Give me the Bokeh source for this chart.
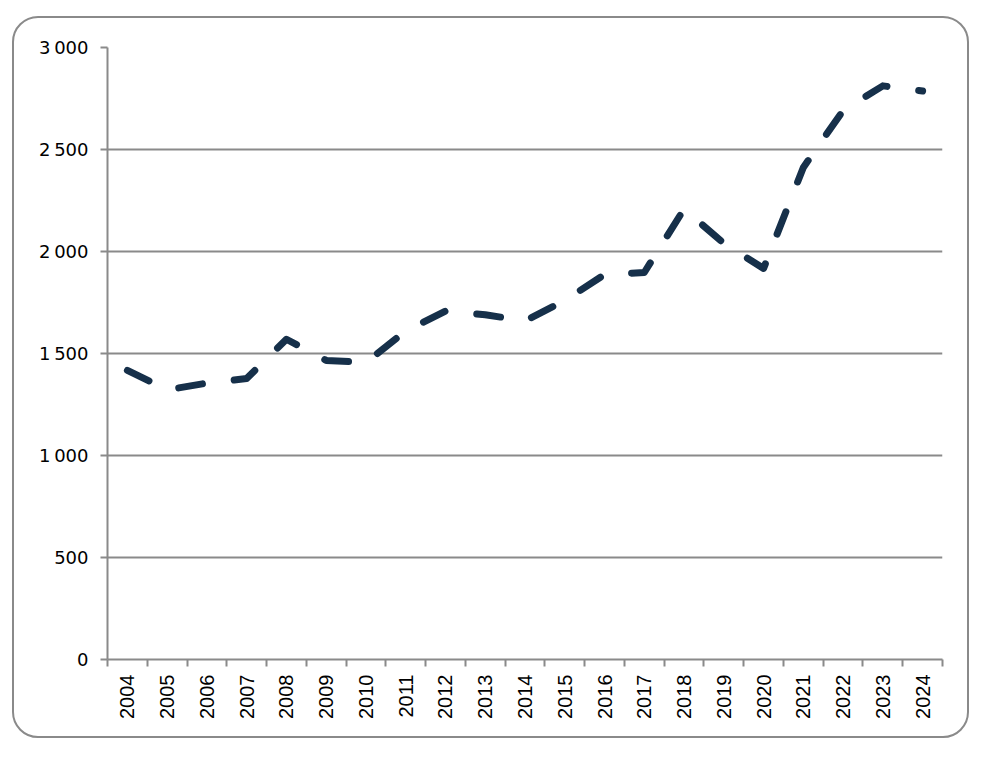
import numpy as np
from bokeh.plotting import figure
from bokeh.layouts import column, row
from bokeh.models import (ColumnDataSource, Range1d, FixedTicker, CustomJSTickFormatter, Spacer)
from bokeh.embed import file_html
from bokeh.resources import INLINE

years = ["2004", "2005", "2006", "2007", "2008", "2009", "2010", "2011", "2012", "2013",
         "2014", "2015", "2016", "2017", "2018", "2019", "2020", "2021", "2022", "2023", "2024"]
values = [1417, 1322, 1355, 1377, 1570, 1466, 1456, 1610, 1708, 1690,
          1660, 1760, 1887, 1897, 2208, 2040, 1917, 2412, 2691, 2812, 2787]
y_ticks = [0, 500, 1000, 1500, 2000, 2500, 3000]

n = len(years)
pos = [i + 0.5 for i in range(n)]
src = ColumnDataSource(dict(x=pos, y=values, year=years))

p = figure(width=957, height=722, output_backend="svg", toolbar_location=None,
           x_range=Range1d(0, n), y_range=Range1d(0, 3000),
           min_border_left=93, min_border_right=29, min_border_top=29, min_border_bottom=81)
p.styles = {"border": "2px solid #8a8a8a", "border-radius": "26px"}
p.outline_line_color = None
p.background_fill_color = "white"
p.border_fill_color = None

p.line("x", "y", source=src, line_color="#16304a", line_width=7,
       line_dash="24 32", line_cap="round", line_join="round")

# x axis
xa = p.xaxis[0]
xa.ticker = FixedTicker(ticks=pos, minor_ticks=list(range(n + 1)))
xa.formatter = CustomJSTickFormatter(args=dict(labels=years),
                                     code="return labels[Math.floor(tick)] || '';")
xa.major_tick_out = 0
xa.major_tick_in = 0
xa.minor_tick_out = 7
xa.minor_tick_in = 0
xa.minor_tick_line_color = "#8a8a8a"
xa.minor_tick_line_width = 2
xa.axis_line_color = "#8a8a8a"
xa.axis_line_width = 2
xa.major_label_orientation = np.pi / 2
xa.major_label_text_font = "Liberation Sans"
xa.major_label_text_font_size = "20px"
xa.major_label_text_color = "black"
xa.major_label_standoff = 8

# y axis
ya = p.yaxis[0]
ya.ticker = FixedTicker(ticks=y_ticks)
ya.formatter = CustomJSTickFormatter(code="""
if (tick >= 1000) { return Math.floor(tick/1000) + '\u202f' + String(tick % 1000).padStart(3, '0'); }
return String(tick);""")
ya.major_tick_out = 7
ya.major_tick_in = 0
ya.minor_tick_out = 0
ya.minor_tick_in = 0
ya.major_tick_line_color = "#8a8a8a"
ya.major_tick_line_width = 2
ya.axis_line_color = "#8a8a8a"
ya.axis_line_width = 2
ya.major_label_text_font = "DejaVu Sans"
ya.major_label_text_font_size = "18px"
ya.major_label_text_color = "black"
ya.major_label_standoff = 12

p.xgrid.visible = False
p.ygrid.ticker = FixedTicker(ticks=y_ticks)
p.ygrid.grid_line_color = "#8a8a8a"
p.ygrid.grid_line_width = 2

layout = column(Spacer(height=16, width=10), row(Spacer(width=12, height=10), p))
open("out.html", "w").write(file_html(layout, INLINE))
